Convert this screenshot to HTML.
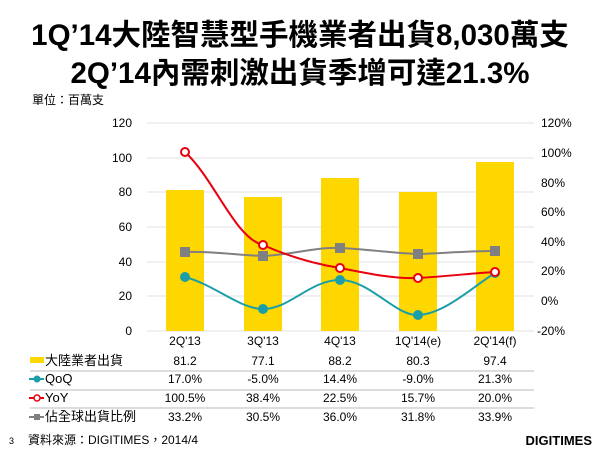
<!DOCTYPE html>
<html><head><meta charset="utf-8"><style>
body{margin:0;background:#fff;width:600px;height:450px;overflow:hidden;font-family:"Liberation Sans","Noto Sans CJK TC",sans-serif}
</style></head><body>
<svg width="600" height="450" xmlns="http://www.w3.org/2000/svg" font-family="Liberation Sans, Noto Sans CJK TC, sans-serif">
<text x="300" y="45" text-anchor="middle" font-size="29.5" font-weight="bold">1Q’14大陸智慧型手機業者出貨8,030萬支</text>
<text x="300" y="83" text-anchor="middle" font-size="29.5" font-weight="bold">2Q’14內需刺激出貨季增可達21.3%</text>
<text x="32" y="104" font-size="12">單位：百萬支</text>
<g stroke="#e2e2e2" stroke-width="1">
<line x1="147" x2="534" y1="123" y2="123"/><line x1="147" x2="534" y1="158" y2="158"/><line x1="147" x2="534" y1="192" y2="192"/><line x1="147" x2="534" y1="227" y2="227"/><line x1="147" x2="534" y1="262" y2="262"/><line x1="147" x2="534" y1="296" y2="296"/><line x1="147" x2="534" y1="331" y2="331"/>
</g>
<g font-size="12" text-anchor="end">
<text x="132" y="127">120</text><text x="132" y="162">100</text><text x="132" y="196">80</text><text x="132" y="231">60</text><text x="132" y="266">40</text><text x="132" y="300">20</text><text x="132" y="335">0</text>
</g>
<g font-size="12">
<text x="541" y="127">120%</text><text x="541" y="157">100%</text><text x="541" y="187">80%</text><text x="541" y="216">60%</text><text x="541" y="246">40%</text><text x="541" y="275">20%</text><text x="541" y="305">0%</text><text x="537" y="335">-20%</text>
</g>
<g fill="#ffd700">
<rect x="166" y="190" width="38" height="141"/><rect x="244" y="197" width="38" height="134"/><rect x="321" y="178" width="38" height="153"/><rect x="399" y="192" width="38" height="139"/><rect x="476" y="162" width="38" height="169"/>
</g>
<path d="M185,252 C210,251 238,255 263,256 C290,255 315,247 340,248 C365,249 392,253 418,254 C445,253 470,251 495,251" stroke="#808080" stroke-width="2" fill="none"/>
<g fill="#808080"><rect x="180" y="247" width="10" height="10"/><rect x="258" y="251" width="10" height="10"/><rect x="335" y="243" width="10" height="10"/><rect x="413" y="249" width="10" height="10"/><rect x="490" y="246" width="10" height="10"/></g>
<path d="M185,277 C215,285 240,309 263,309 C290,309 310,280 340,280 C370,280 395,316 418,315 C445,314 475,285 495,273" stroke="#1a9fa8" stroke-width="2" fill="none"/>
<g fill="#1a9fa8"><circle cx="185" cy="277" r="5"/><circle cx="263" cy="309" r="5"/><circle cx="340" cy="280" r="5"/><circle cx="418" cy="315" r="5"/><circle cx="495" cy="273" r="5"/></g>
<path d="M185,152 C215,180 235,238 263,245 C290,257 315,264 340,268 C370,274 395,279 418,278 C450,276 475,273 495,272" stroke="#e8000e" stroke-width="2" fill="none"/>
<g fill="#fff" stroke="#e8000e" stroke-width="2"><circle cx="185" cy="152" r="4"/><circle cx="263" cy="245" r="4"/><circle cx="340" cy="268" r="4"/><circle cx="418" cy="278" r="4"/><circle cx="495" cy="272" r="4"/></g>
<g font-size="12" text-anchor="middle">
<text x="185" y="345">2Q'13</text><text x="263" y="345">3Q'13</text><text x="340" y="345">4Q'13</text><text x="418" y="345">1Q'14(e)</text><text x="495" y="345">2Q'14(f)</text>
<text x="185" y="365">81.2</text><text x="263" y="365">77.1</text><text x="340" y="365">88.2</text><text x="418" y="365">80.3</text><text x="495" y="365">97.4</text>
<text x="185" y="383">17.0%</text><text x="263" y="383">-5.0%</text><text x="340" y="383">14.4%</text><text x="418" y="383">-9.0%</text><text x="495" y="383">21.3%</text>
<text x="185" y="402">100.5%</text><text x="263" y="402">38.4%</text><text x="340" y="402">22.5%</text><text x="418" y="402">15.7%</text><text x="495" y="402">20.0%</text>
<text x="185" y="421">33.2%</text><text x="263" y="421">30.5%</text><text x="340" y="421">36.0%</text><text x="418" y="421">31.8%</text><text x="495" y="421">33.9%</text>
</g>
<g stroke="#bbb" stroke-width="1"><line x1="30" x2="534" y1="371" y2="371"/><line x1="30" x2="534" y1="390" y2="390"/><line x1="30" x2="534" y1="408" y2="408"/></g>
<rect x="30" y="357" width="14" height="6" fill="#ffd700"/>
<g font-size="13"><text x="45" y="365">大陸業者出貨</text><text x="45" y="383">QoQ</text><text x="45" y="402">YoY</text><text x="45" y="421">佔全球出貨比例</text></g>
<line x1="29" x2="44" y1="379" y2="379" stroke="#1a9fa8" stroke-width="2"/><circle cx="37" cy="379" r="3.5" fill="#1a9fa8"/>
<line x1="29" x2="44" y1="398" y2="398" stroke="#e8000e" stroke-width="2"/><circle cx="37" cy="398" r="3" fill="#fff" stroke="#e8000e" stroke-width="1.5"/>
<line x1="29" x2="44" y1="417" y2="417" stroke="#808080" stroke-width="2"/><rect x="34" y="414" width="6" height="6" fill="#808080"/>
<text x="9" y="444" font-size="9">3</text>
<text x="28" y="444" font-size="12">資料來源：DIGITIMES，2014/4</text>
<text x="592" y="445" font-size="13" font-weight="bold" text-anchor="end">DIGITIMES</text>
</svg>
</body></html>
